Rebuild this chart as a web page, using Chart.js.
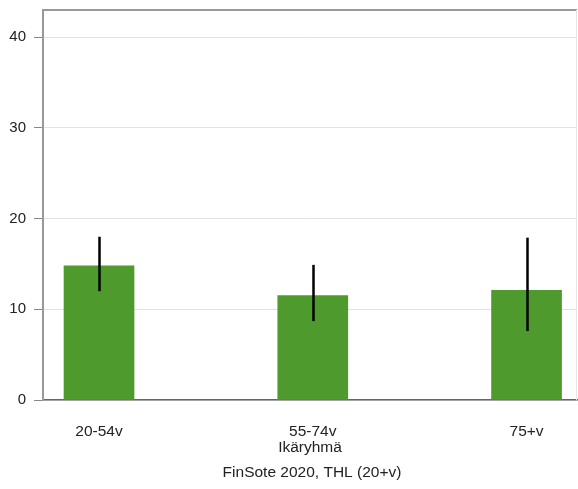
<!DOCTYPE html>
<html>
<head>
<meta charset="utf-8">
<script src="https://cdn.jsdelivr.net/npm/chart.js@4"></script>
<style>
  html, body { margin: 0; padding: 0; background: #fff; }
  #wrap { width: 578px; height: 489px; }
</style>
</head>
<body>
<div id="wrap"><canvas id="chart" width="578" height="489"></canvas></div>
<script>
// Ikäryhmät ja arvot (%)
const categories = ["20-54v", "55-74v", "75+v"];
const values = [14.8, 11.5, 12.1];
const lowerCI = [12.0, 8.7, 7.6];
const upperCI = [18.0, 14.9, 17.9];
const yTicks = [0, 10, 20, 30, 40];

const barColor = "#4e9a2c";

// Luottamusvälit ja kehys
const errorBars = {
  id: "errorBars",
  afterLayout(chart) {
    // lähdeteksti keskitetään kuva-alueen mukaan
    if (chart.titleBlock) chart.titleBlock.left = chart.chartArea.left + 4;
  },
  afterDatasetsDraw(chart) {
    const { ctx, scales: { x, y } } = chart;
    ctx.save();
    ctx.strokeStyle = "#000";
    ctx.lineWidth = 2.5;
    categories.forEach((c, i) => {
      const px = Math.round(x.getPixelForValue(i)) + 0.5;
      ctx.beginPath();
      ctx.moveTo(px, y.getPixelForValue(upperCI[i]));
      ctx.lineTo(px, y.getPixelForValue(lowerCI[i]));
      ctx.stroke();
    });
    ctx.restore();
  },
  afterDraw(chart) {
    const { ctx, chartArea: a } = chart;
    ctx.save();
    ctx.strokeStyle = "#999";
    ctx.lineWidth = 2;
    ctx.beginPath();
    ctx.moveTo(a.left, a.top);
    ctx.lineTo(a.right, a.top);
    ctx.stroke();
    ctx.strokeStyle = "#e6e6e6";
    ctx.lineWidth = 1;
    ctx.beginPath();
    ctx.moveTo(a.right - 0.5, a.top);
    ctx.lineTo(a.right - 0.5, a.bottom);
    ctx.stroke();
    ctx.restore();
  }
};

const ctx = document.getElementById("chart").getContext("2d");
Chart.defaults.font.family = "'Liberation Sans', Arial, sans-serif";
Chart.defaults.font.size = 15.5;
Chart.defaults.color = "#222";

new Chart(ctx, {
  type: "bar",
  data: {
    datasets: [
      {
        data: categories.map((c, i) => ({ x: i, y: values[i] })),
        backgroundColor: barColor,
        barThickness: 70,
      },
    ],
  },
  options: {
    responsive: false,
    animation: false,
    layout: { padding: { top: 10, right: 1, left: 0, bottom: 0 } },
    plugins: {
      legend: { display: false },
      tooltip: { enabled: false },
      title: {
        display: true,
        position: "bottom",
        text: "FinSote 2020, THL (20+v)",
        font: { size: 15.5, weight: "normal" },
        color: "#222",
        padding: { top: 6.7, bottom: 6.7 },
      },
    },
    scales: {
      x: {
        type: "linear",
        offset: false,
        min: -0.262,
        max: 2.236,
        afterBuildTicks: (scale) => {
          scale.ticks = categories.map((c, i) => ({ value: i }));
        },
        afterFit: (scale) => {
          scale.height = 57;
          scale.paddingLeft = 0;
          scale.paddingRight = 0;
        },
        ticks: {
          callback: (v) => categories[v],
          padding: 22,
          maxRotation: 0,
          color: "#222",
        },
        grid: { display: false, drawTicks: false },
        border: { display: true, color: "#666", width: 1.5 },
        title: {
          display: true,
          text: "Ikäryhmä",
          color: "#222",
          padding: { top: 0, bottom: 0 },
        },
      },
      y: {
        min: 0,
        max: 43,
        afterBuildTicks: (scale) => {
          scale.ticks = yTicks.map((v) => ({ value: v }));
        },
        afterFit: (scale) => {
          scale.width = 43;
          scale.paddingTop = 0;
          scale.paddingBottom = 0;
        },
        ticks: { padding: 8, color: "#222", font: { size: 15 } },
        grid: {
          color: "#e2e2e2",
          tickColor: "#888",
          tickLength: 9,
        },
        border: { display: true, color: "#999", width: 2 },
      },
    },
  },
  plugins: [errorBars],
});
</script>
</body>
</html>
